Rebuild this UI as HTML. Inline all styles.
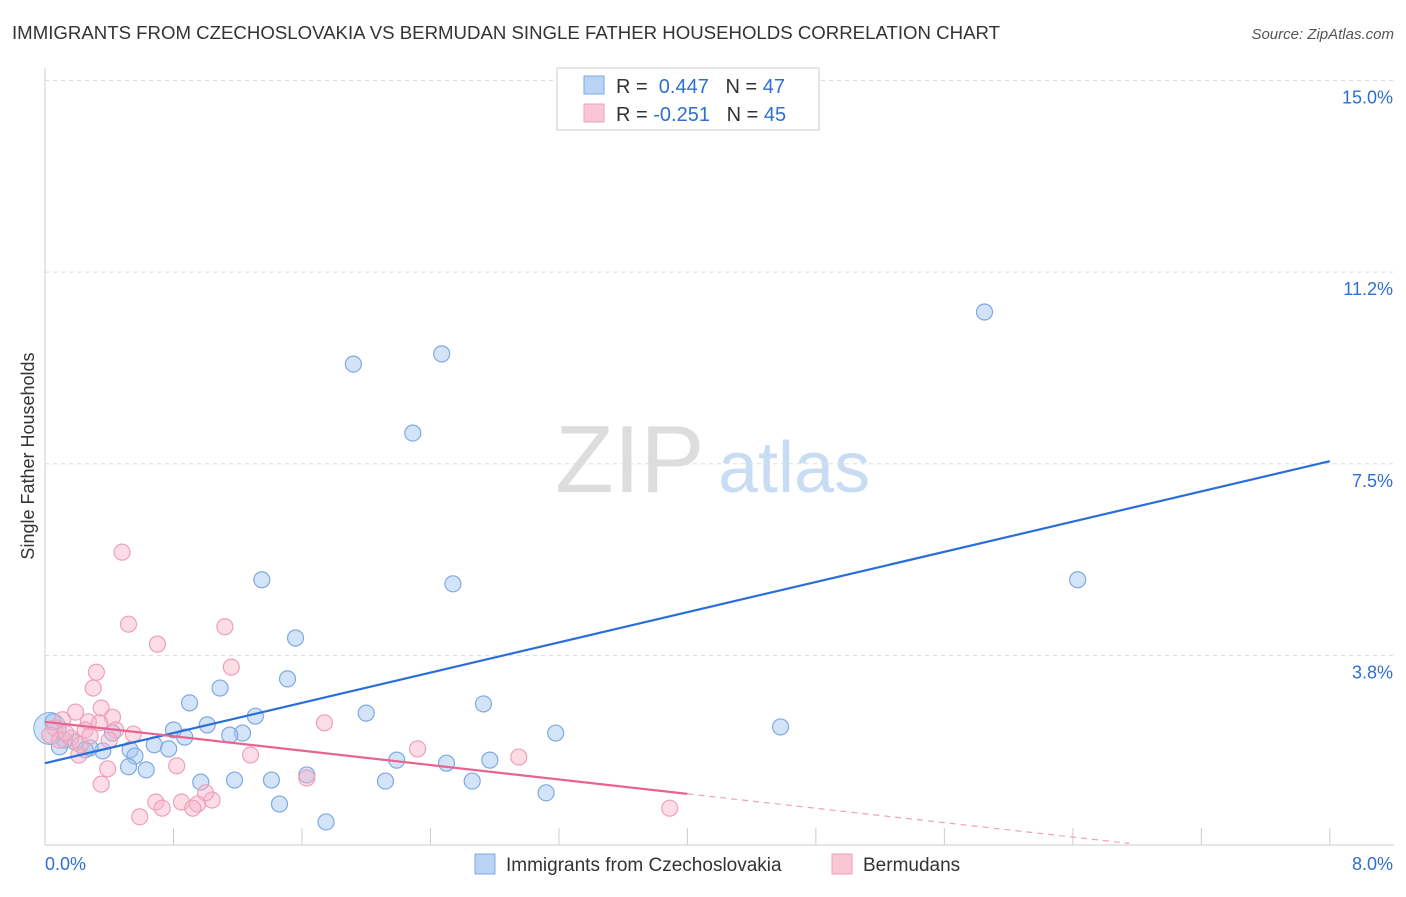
<!DOCTYPE html>
<html><head><meta charset="utf-8"><style>
body{margin:0;background:#fff;font-family:"Liberation Sans",sans-serif;}
svg text{font-family:"Liberation Sans",sans-serif;}
</style></head><body>
<svg id="chart" width="1406" height="892">
<text x="12" y="39" font-size="18" fill="#333" textLength="988" lengthAdjust="spacingAndGlyphs">IMMIGRANTS FROM CZECHOSLOVAKIA VS BERMUDAN SINGLE FATHER HOUSEHOLDS CORRELATION CHART</text>
<text x="1394" y="39" font-size="15" fill="#555" font-style="italic" text-anchor="end">Source: ZipAtlas.com</text>
<text x="34" y="456" font-size="18" fill="#333" text-anchor="middle" transform="rotate(-90 34 456)">Single Father Households</text>
<text x="555" y="492" font-size="96" fill="#ddd" font-family="Liberation Serif">ZIP</text>
<text x="718" y="492" font-size="72" fill="#c8dcf4">atlas</text>
<g id="grid"></g><g id="pts"></g><g id="lines"></g>
<g>
<rect x="557" y="68" width="262" height="62" fill="#fff" stroke="#ccc"/>
<rect x="584" y="76" width="20" height="18" fill="#b9d3f5" stroke="#7fa9e0"/>
<rect x="584" y="104" width="20" height="18" fill="#f9c6d6" stroke="#eea0bb"/>
<text x="616" y="93" font-size="20" fill="#333">R = <tspan fill="#2f6fd0">&#160;0.447</tspan>&#160;&#160;&#160;N = <tspan fill="#2f6fd0">47</tspan></text>
<text x="616" y="121" font-size="20" fill="#333">R = <tspan fill="#2f6fd0">-0.251</tspan>&#160;&#160;&#160;N = <tspan fill="#2f6fd0">45</tspan></text>
</g>
<g>
<rect x="475" y="854" width="20" height="20" fill="#b9d3f5" stroke="#7fa9e0"/>
<text x="506" y="871" font-size="19" fill="#333">Immigrants from Czechoslovakia</text>
<rect x="832" y="854" width="20" height="20" fill="#f9c6d6" stroke="#eea0bb"/>
<text x="863" y="871" font-size="19" fill="#333">Bermudans</text>
</g>
</svg>
<script>
const blueX=[5.85,2.47,1.92,2.29,1.35,2.54,6.43,1.56,1.51,1.09,0.90,2.73,2.00,1.31,1.01,0.80,4.58,3.18,1.23,1.15,0.87,0.42,0.68,0.77,0.53,0.36,0.28,0.19,0.12,0.09,0.05,2.19,2.77,2.50,0.56,0.52,0.63,1.63,0.97,1.18,1.41,2.12,2.66,3.12,1.46,1.75,0.25];
const blueY=[10.47,9.65,9.45,8.10,5.23,5.15,5.23,4.09,3.29,3.11,2.82,2.80,2.62,2.56,2.39,2.29,2.35,2.23,2.23,2.19,2.15,2.23,2.00,1.92,1.90,1.88,1.94,2.05,2.09,1.96,2.45,1.70,1.70,1.64,1.78,1.57,1.51,1.41,1.27,1.31,1.31,1.29,1.29,1.06,0.84,0.49,1.90];
const pinkX=[0.48,0.52,1.12,0.70,1.16,0.32,0.30,0.35,0.42,0.27,0.19,0.11,0.06,0.03,0.09,0.16,0.22,0.34,0.44,0.55,1.74,1.28,2.32,2.95,0.82,0.39,0.35,1.63,0.69,0.85,1.04,1.00,0.95,0.73,0.92,0.59,3.89,0.25,0.13,0.28,0.40,0.21];
const pinkY=[5.77,4.36,4.31,3.97,3.52,3.42,3.11,2.72,2.54,2.45,2.64,2.49,2.33,2.19,2.09,2.13,2.00,2.43,2.29,2.21,2.43,1.80,1.92,1.76,1.59,1.53,1.23,1.35,0.88,0.88,0.92,1.06,0.84,0.76,0.76,0.59,0.76,2.29,2.23,2.17,2.09,1.80];
const yTicks=[3.75,7.5,11.25,15];
const yTickLabels=["3.8%","7.5%","11.2%","15.0%"];
const xTicks=[0,0.8,1.6,2.4,3.2,4.0,4.8,5.6,6.4,7.2,8.0];
const blueLine=[1.64,7.55];
const pinkLine=[2.45,1.04];
const ns="http://www.w3.org/2000/svg";
const X=v=>45+v*160.6, Y=v=>847-v*51.1;
function mk(t,a,p){const e=document.createElementNS(ns,t);for(const k in a)e.setAttribute(k,a[k]);p.appendChild(e);return e;}
const g=document.getElementById('grid');
yTicks.forEach((t,i)=>{
 const l=mk('line',{x1:45,x2:1394,y1:Y(t),y2:Y(t),stroke:'#ddd','stroke-dasharray':'4,4'},g);
 
 
 const tx=mk('text',{x:1393,y:Y(t)+23,'font-size':18,fill:'#2f6fd0','text-anchor':'end'},g);
 tx.textContent=yTickLabels[i];
 
 
});
const ax=mk('line',{x1:45,x2:1394,y1:845,y2:845,stroke:'#ccc'},g);


const ay=mk('line',{x1:45,x2:45,y1:68,y2:845,stroke:'#ccc'},g);


xTicks.forEach(t=>{const l=mk('line',{x1:X(t),x2:X(t),y1:828,y2:845,stroke:'#ccc'},g);
 
 });
const x0=mk('text',{x:45,y:870,'font-size':18,fill:'#2f6fd0'},g);x0.textContent='0.0%';


const x1=mk('text',{x:1393,y:870,'font-size':18,fill:'#2f6fd0','text-anchor':'end'},g);x1.textContent='8.0%';


const p=document.getElementById('pts');
const big=mk('circle',{cx:X(0.03),cy:Y(2.32),r:16,fill:'rgba(160,196,240,0.45)',stroke:'#7fa9e0'},p);


blueX.forEach((v,i)=>{const c=mk('circle',{cx:X(v),cy:Y(blueY[i]),r:8,fill:'rgba(160,196,240,0.45)',stroke:'#7fa9e0','stroke-width':1.2},p);
 
 });
pinkX.forEach((v,i)=>{const c=mk('circle',{cx:X(v),cy:Y(pinkY[i]),r:8,fill:'rgba(248,180,200,0.45)',stroke:'#eea0bb','stroke-width':1.2},p);
 
 });
const L=document.getElementById('lines');
const bl=mk('line',{x1:X(0),y1:Y(blueLine[0]),x2:X(8),y2:Y(blueLine[1]),stroke:'#2a6fd6','stroke-width':2.2},L);


const sl=(pinkLine[1]-pinkLine[0])/4;
const pl=mk('line',{x1:X(0),y1:Y(pinkLine[0]),x2:X(4),y2:Y(pinkLine[1]),stroke:'#e8648f','stroke-width':2.2},L);


const xe=6.75;
const pd=mk('line',{x1:X(4),y1:Y(pinkLine[1]),x2:X(xe),y2:Y(pinkLine[0]+sl*xe),stroke:'#eea0bb','stroke-width':1.2,'stroke-dasharray':'6,5'},L);


</script>
</body></html>
